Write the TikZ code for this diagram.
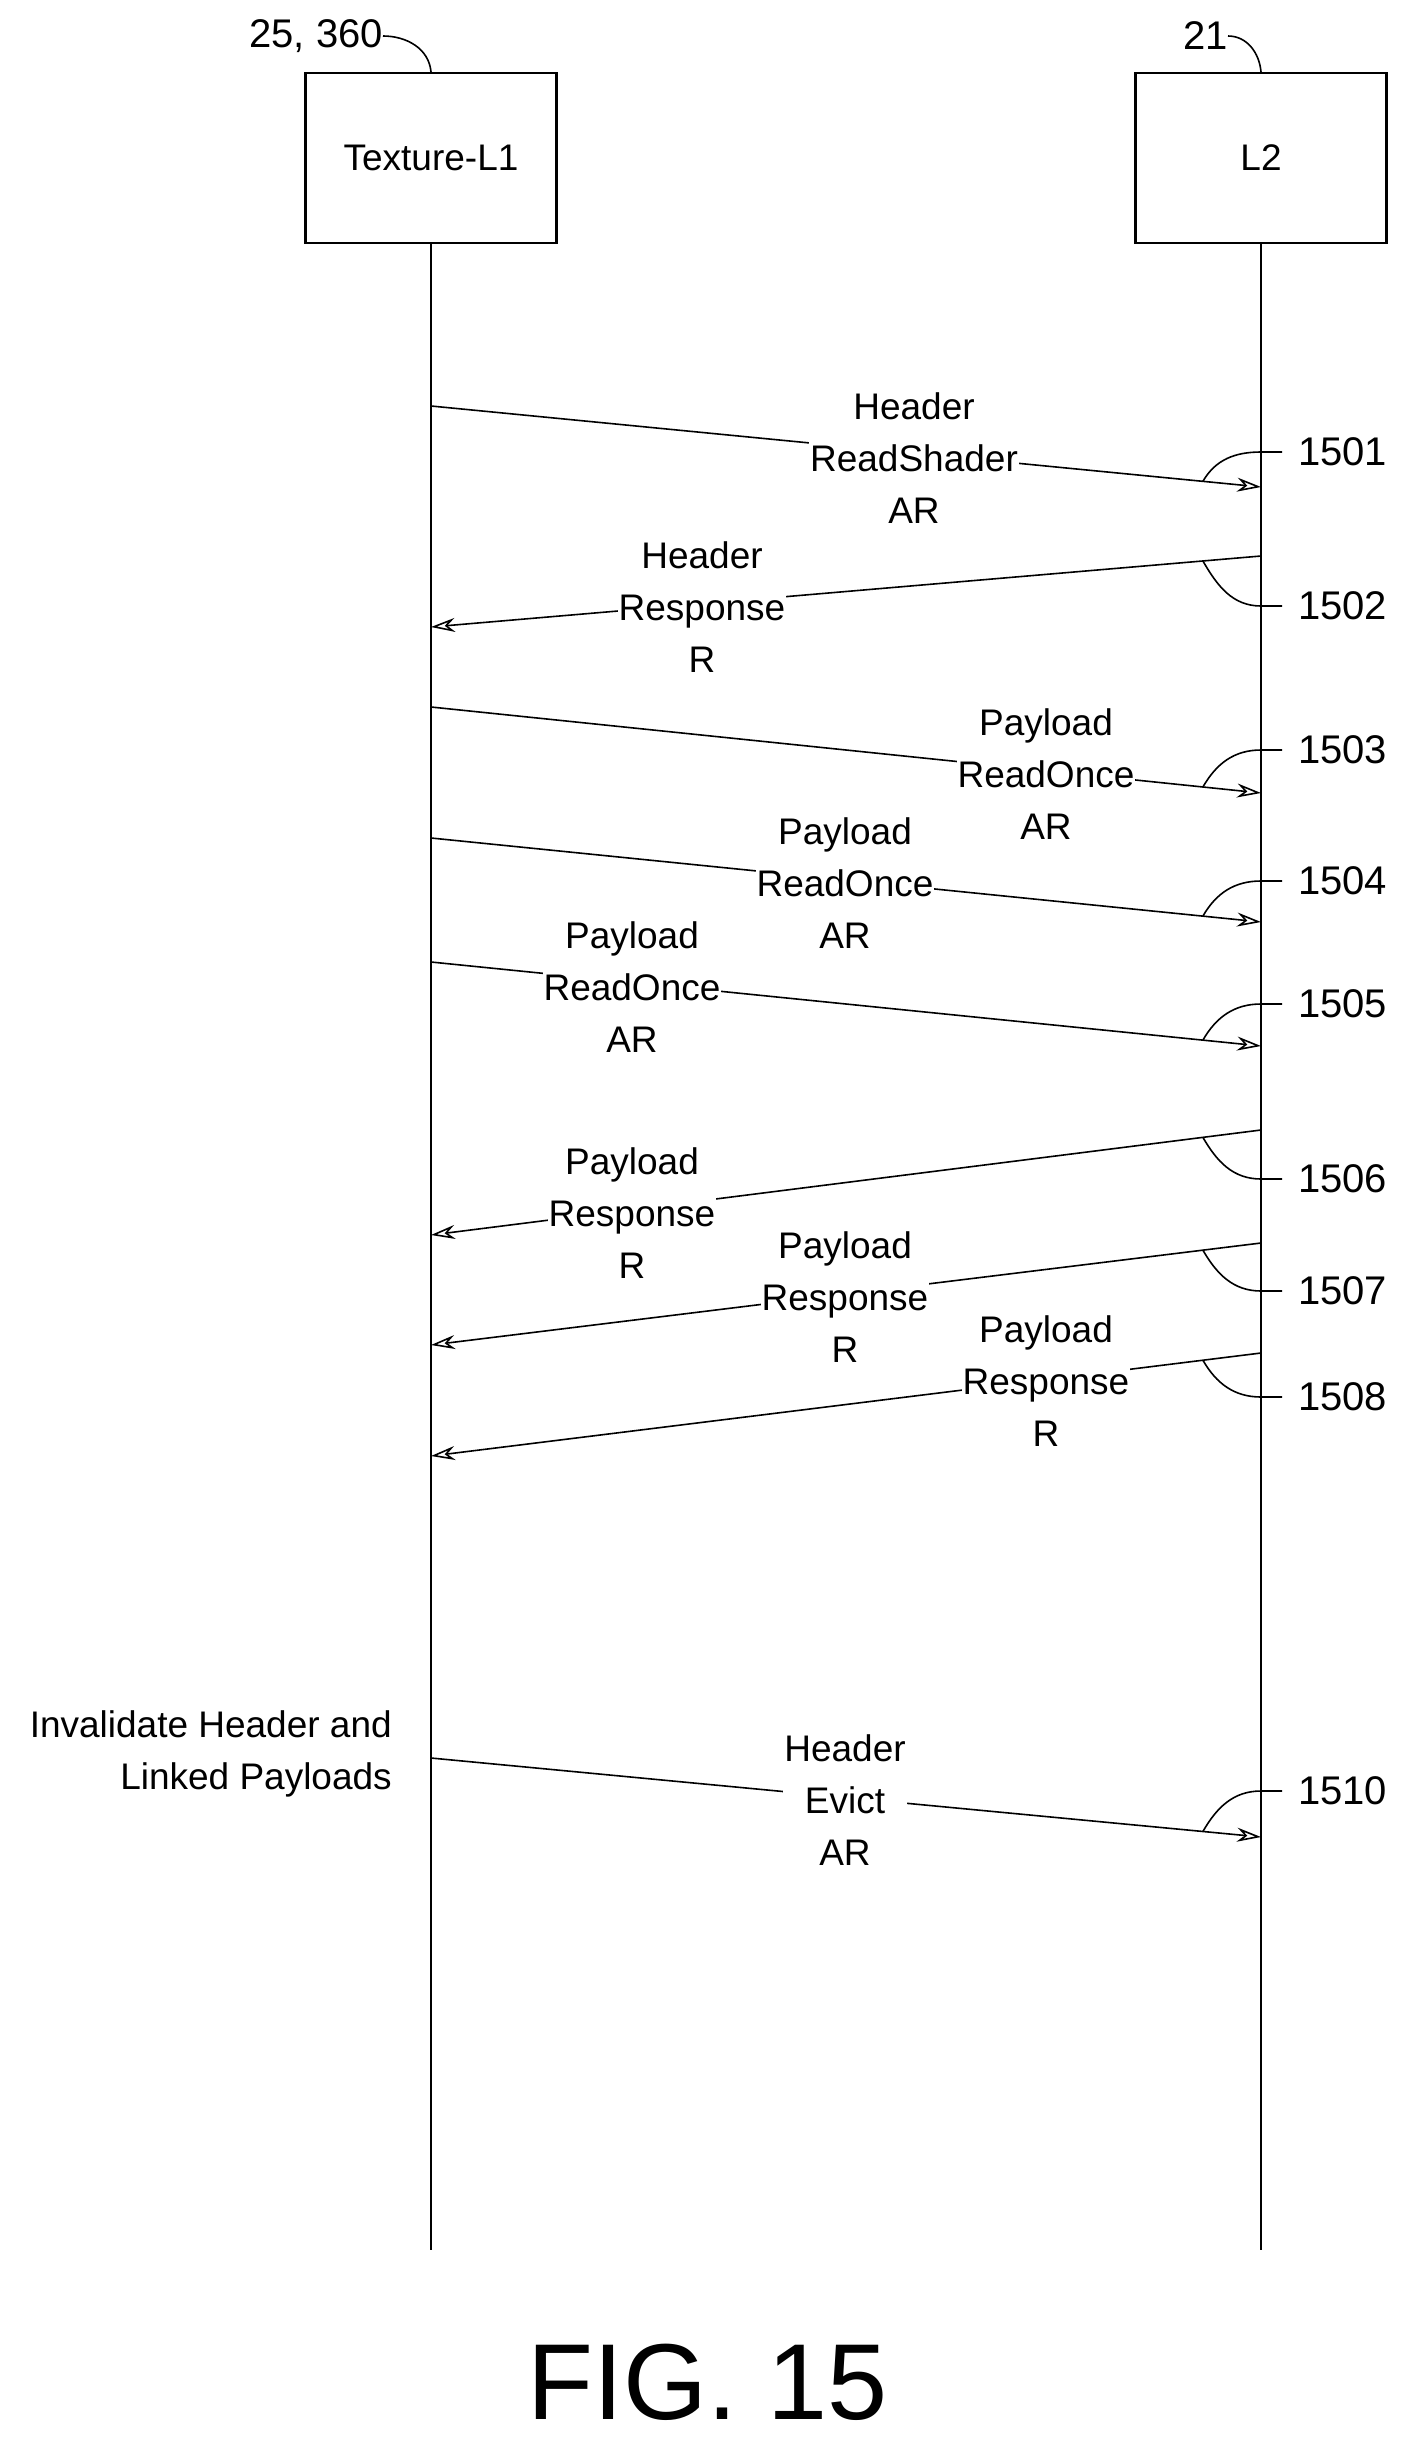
\documentclass[tikz,border=0pt]{standalone}
\usepackage{fontspec}
\setmainfont{Liberation Sans}
\usetikzlibrary{arrows.meta}
\begin{document}
\begin{tikzpicture}[x=1pt,y=-1pt,
  ln/.style={line width=1.6pt},
  msg/.style={ln,-{Stealth[length=24pt,width=14pt,open]}},
  lbl/.style={fill=white,inner sep=1pt,align=center,font=\fontsize{37}{52}\selectfont},
  refn/.style={anchor=west,inner sep=0pt,font=\fontsize{40}{48}\selectfont},
  box/.style={draw,line width=2.2pt,minimum width=251pt,minimum height=170pt,font=\fontsize{37}{44}\selectfont}]
\useasboundingbox (0,0) rectangle (1415,2441);
\node[box] (tl) at (431,158) {Texture-L1};
\node[box] (l2) at (1261,158) {L2};
\coordinate (tlb) at (431,2250);
\coordinate (l2b) at (1261,2250);
\draw[ln] (tl.south) -- (tlb);
\draw[ln] (l2.south) -- (l2b);
\node[refn,anchor=east] (r1) at (383,36) {25, 360};
\node[refn,anchor=east] (r2) at (1228,36) {21};
\draw[ln] (r1.east) to[out=0,in=95] (tl.north);
\draw[ln] (r2.east) to[out=0,in=95] (l2.north);
% coordinates
\foreach \n/\ya/\yb in {1/406/487,3/707/793,4/838/922,5/962/1046,10/1758/1837}{
  \coordinate (s\n) at (431,\ya); \coordinate (e\n) at (1261,\yb);}
\foreach \n/\ya/\yb in {2/556/627,6/1130/1235,7/1243/1345,8/1353/1456}{
  \coordinate (s\n) at (1261,\ya); \coordinate (e\n) at (431,\yb);}
\foreach \n in {1,2,3,4,5,6,7,8,10}{
  \draw[msg] (s\n) -- coordinate[pos=0.93] (c\n) coordinate[pos=0.07] (d\n) (e\n);}
\node[lbl] (m1) at (914,458) {Header\\ReadShader\\AR};
\node[lbl] (m2) at (702,607) {Header\\Response\\R};
\node[lbl] (m3) at (1046,774) {Payload\\ReadOnce\\AR};
\node[lbl] (m4) at (845,883) {Payload\\ReadOnce\\AR};
\node[lbl] (m5) at (632,987) {Payload\\ReadOnce\\AR};
\node[lbl] (m6) at (632,1213) {Payload\\Response\\R};
\node[lbl] (m7) at (845,1297) {Payload\\Response\\R};
\node[lbl] (m8) at (1046,1381) {Payload\\Response\\R};
\node[lbl] (m10) at (845,1800) {Header\\Evict\\AR};
\node[lbl,anchor=east,align=right] (inv) at (393,1754) {Invalidate Header and\\Linked Payloads};
% reference numerals
\foreach \n/\y in {1/452,3/750,4/881,5/1004,10/1791}{
  \node[refn] (n\n) at (1298,\y) {15\ifnum\n<10 0\fi\n};
  \coordinate (k\n) at (1261,\y);
  \draw[ln] (n\n.west) ++(-16,0) -- (k\n) to[out=180,in=60] (c\n);}
\foreach \n/\y in {2/606,6/1179,7/1291,8/1397}{
  \node[refn] (n\n) at (1298,\y) {150\n};
  \coordinate (k\n) at (1261,\y);
  \draw[ln] (n\n.west) ++(-16,0) -- (k\n) to[out=180,in=-60] (d\n);}
\node[font=\fontsize{108}{120}\selectfont] (fig) at (708,2382) {FIG. 15};
\end{tikzpicture}
\end{document}
